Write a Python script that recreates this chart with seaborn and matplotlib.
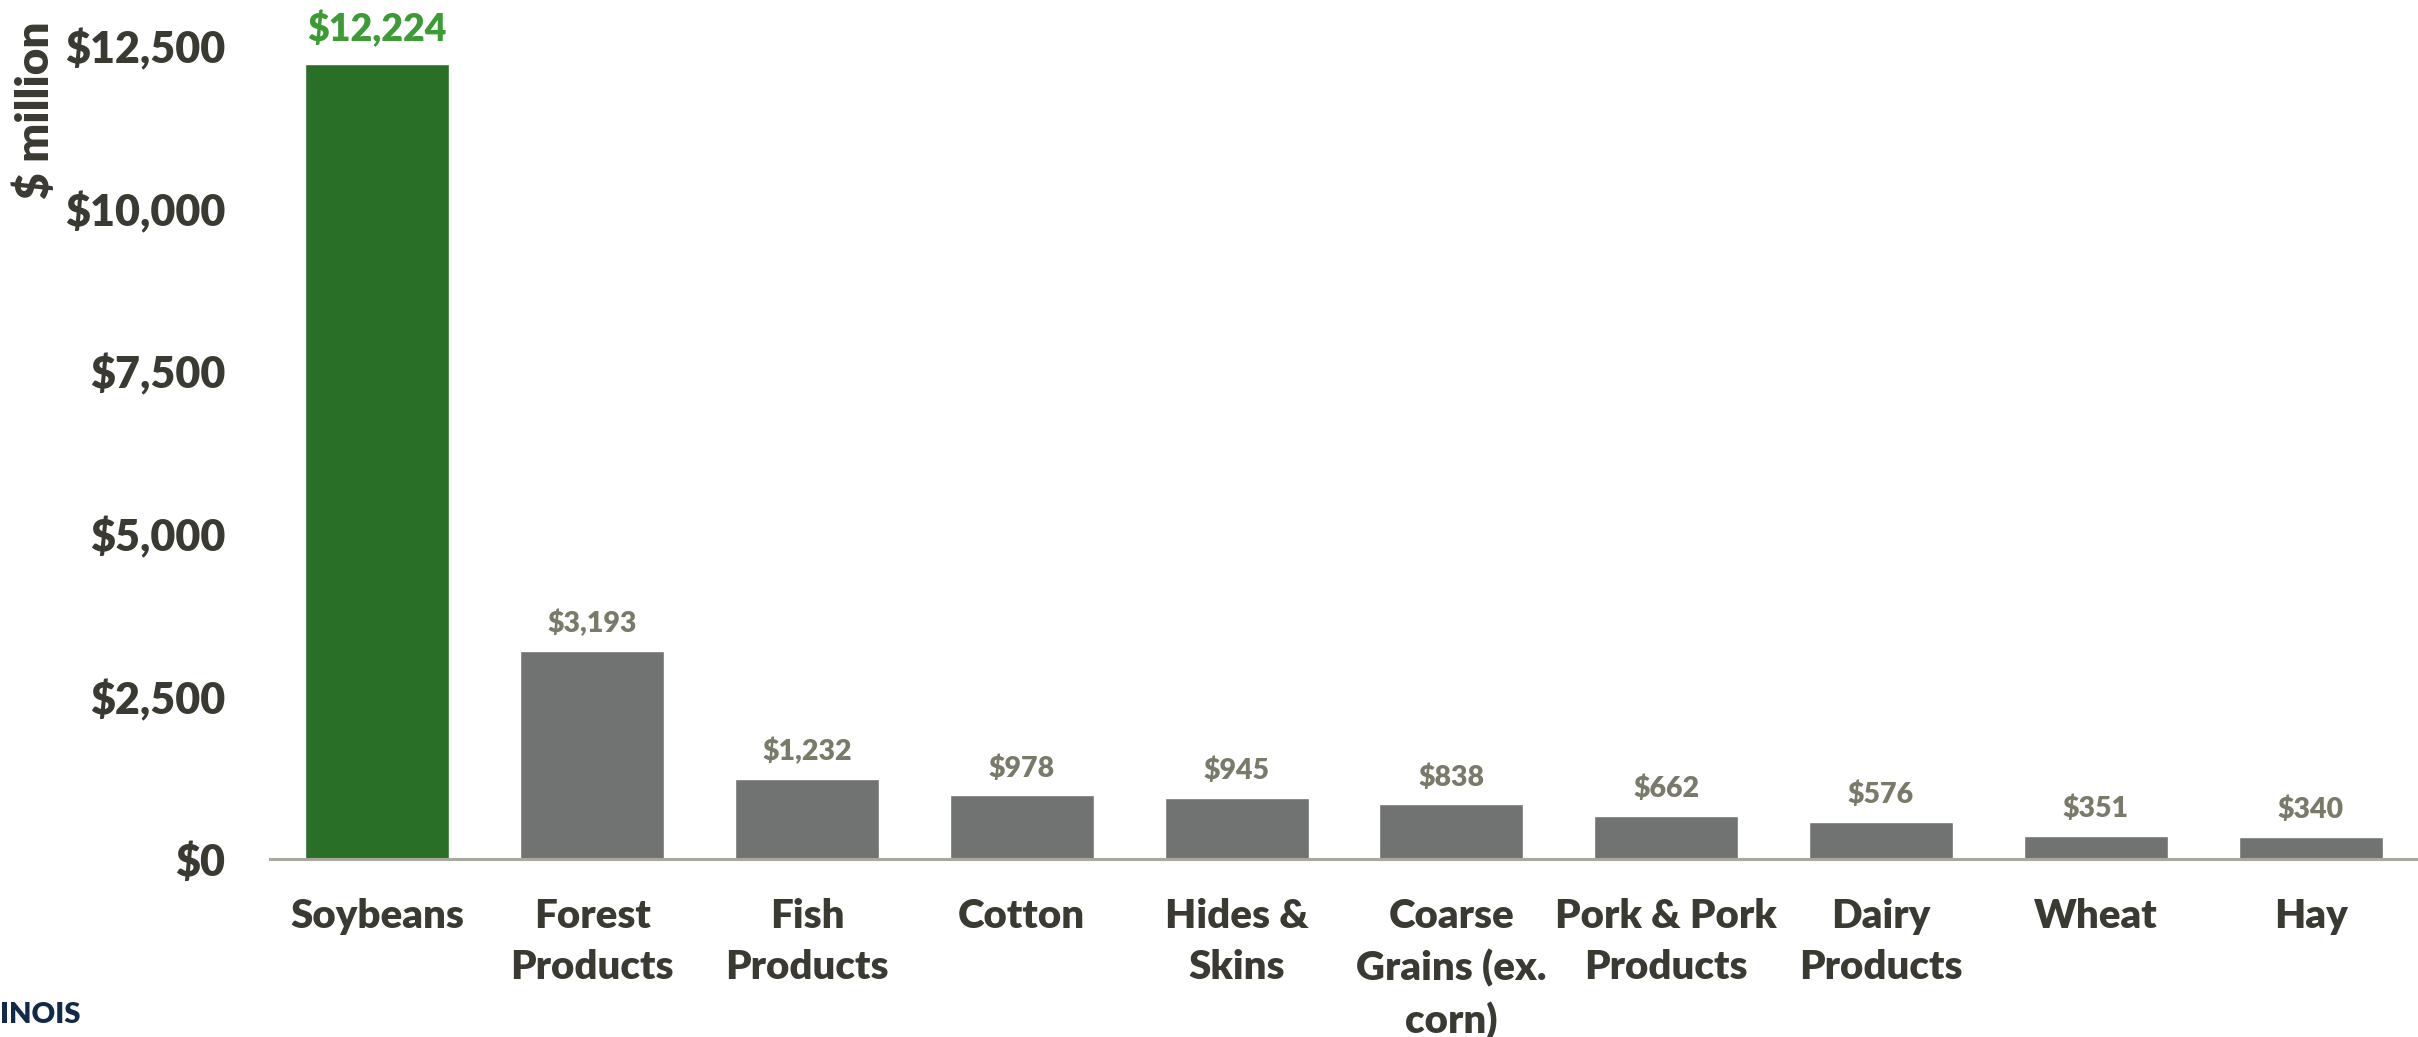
import matplotlib
matplotlib.use("Agg")
import matplotlib.pyplot as plt
import seaborn as sns
import pandas as pd
from matplotlib.ticker import FuncFormatter

categories = ["Soybeans", "Forest\nProducts", "Fish\nProducts", "Cotton", "Hides &\nSkins",
              "Coarse\nGrains (ex.\ncorn)", "Pork & Pork\nProducts", "Dairy\nProducts", "Wheat", "Hay"]
values = [12224, 3193, 1232, 978, 945, 838, 662, 576, 351, 340]
yticks = [0, 2500, 5000, 7500, 10000, 12500]

sns.set_theme(style="white")
plt.rcParams['font.family'] = ['Lato', 'DejaVu Sans']
WEIGHT = 'heavy'
plt.rcParams['font.weight'] = WEIGHT

GREEN = "#2a6f28"
GREEN_LBL = "#3d9b35"
GRAY = "#717372"
GRAY_LBL = "#7a7a6a"
TXT = "#3a3a33"

df = pd.DataFrame({"cat": categories, "val": values})
palette = [GREEN] + [GRAY] * (len(categories) - 1)

fig = plt.figure(figsize=(24.18, 10.37), dpi=100)
W, H = 2418, 1037
ax = fig.add_axes([270 / W, 1 - 859 / H, (W - 270) / W, (859 - 46) / H])
sns.barplot(data=df, x="cat", y="val", hue="cat", palette=palette, legend=False,
            width=0.67, ax=ax, saturation=1)

ax.set_xlim(-0.5, len(categories) - 0.5)
ax.set_ylim(0, 12500)
ax.set_yticks(yticks)
ax.yaxis.set_major_formatter(FuncFormatter(lambda v, p: f"${v:,.0f}"))
ax.set_xlabel("")
ax.set_ylabel("")
for s in ["top", "right", "left"]:
    ax.spines[s].set_visible(False)
ax.spines["bottom"].set_color("#a8a89c")
ax.spines["bottom"].set_linewidth(2.2)
ax.tick_params(axis="y", length=0, pad=32, labelsize=31, labelcolor=TXT)
ax.tick_params(axis="x", length=0, pad=28, labelsize=29, labelcolor=TXT)
for lbl in ax.get_xticklabels():
    lbl.set_linespacing(1.47)
    lbl.set_fontweight(WEIGHT)
for lbl in ax.get_yticklabels():
    lbl.set_fontweight(WEIGHT)

for i, (p, v) in enumerate(zip(ax.patches, values)):
    x = p.get_x() + p.get_width() / 2
    if i == 0:
        ax.annotate(f"${v:,.0f}", (x, v), xytext=(0, 12), textcoords="offset points",
                    ha="center", va="bottom", fontsize=27, fontweight=WEIGHT,
                    color=GREEN_LBL, annotation_clip=False)
    else:
        ax.annotate(f"${v:,.0f}", (x, v), xytext=(0, 10), textcoords="offset points",
                    ha="center", va="bottom", fontsize=20.5, fontweight=WEIGHT,
                    color=GRAY_LBL, annotation_clip=False)

fig.text(35 / W, 1 - 110 / H, "$ million", rotation=90, ha="center", va="center",
         fontsize=33, fontweight=WEIGHT, color=TXT)
fig.text(0, 1 - 1015 / H, "INOIS", ha="left", va="center", fontsize=21,
         fontweight=WEIGHT, color="#13294B")

fig.savefig("out.png", dpi=100)
